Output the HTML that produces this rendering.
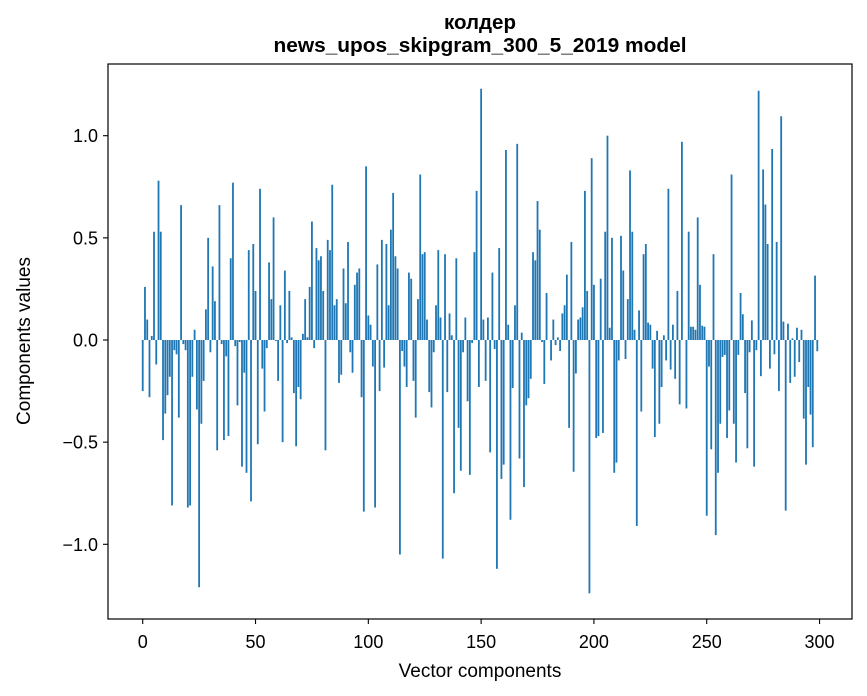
<!DOCTYPE html>
<html><head><meta charset="utf-8"><style>
html,body{margin:0;padding:0;background:#fff;}
svg{display:block;font-family:"Liberation Sans","DejaVu Sans",sans-serif;}
</style></head><body>
<svg id="chart" width="867" height="696" viewBox="0 0 867 696" xmlns="http://www.w3.org/2000/svg">
<rect width="867" height="696" fill="#fff"/>
<text x="480" y="29" text-anchor="middle" font-size="20.5" font-weight="bold">колдер</text>
<text x="480" y="52" text-anchor="middle" font-size="20.5" font-weight="bold" textLength="413" lengthAdjust="spacingAndGlyphs">news_upos_skipgram_300_5_2019 model</text>
<g id="bars"></g>
<g id="axes"></g>
<rect x="108" y="64" width="744" height="555" fill="none" stroke="#000" stroke-width="1.2"/>
<text x="480" y="677" text-anchor="middle" font-size="19">Vector components</text>
<text x="0" y="0" transform="translate(30,341) rotate(-90)" text-anchor="middle" font-size="19">Components values</text>
</svg>
<script>
const values = [-0.25,0.26,0.10,-0.28,0.02,0.53,-0.12,0.78,0.53,-0.49,
-0.36,-0.27,-0.18,-0.81,-0.05,-0.07,-0.38,0.66,-0.02,-0.05,
-0.82,-0.81,-0.18,0.05,-0.34,-1.21,-0.41,-0.20,0.15,0.50,
-0.06,0.36,0.19,-0.54,0.66,-0.02,-0.49,-0.08,-0.47,0.40,
0.77,-0.03,-0.32,-0.01,-0.62,-0.16,-0.65,0.44,-0.79,0.47,
0.24,-0.51,0.74,-0.14,-0.35,-0.04,0.38,0.20,0.60,-0.005,
-0.20,0.17,-0.50,0.34,-0.015,0.24,0.013,-0.26,-0.52,-0.23,
-0.29,0.03,0.20,0.013,0.26,0.58,-0.04,0.45,0.39,0.41,
0.24,-0.54,0.49,0.44,0.76,0.17,0.20,-0.21,-0.17,0.35,
0.18,0.48,-0.06,-0.16,0.27,0.33,0.35,-0.28,-0.84,0.85,
0.12,0.075,-0.13,-0.82,0.37,-0.25,0.49,-0.135,0.47,0.17,
0.54,0.72,0.41,0.35,-1.05,-0.054,-0.13,-0.23,0.33,0.30,
-0.20,-0.38,0.20,0.81,0.42,0.43,0.10,-0.255,-0.33,-0.06,
0.17,0.44,0.11,-1.07,0.42,-0.255,0.13,0.023,-0.75,0.40,
-0.43,-0.64,-0.06,0.11,-0.30,-0.66,-0.015,0.43,0.73,-0.23,
1.23,0.10,-0.20,0.11,-0.55,0.33,-0.044,-1.12,0.45,-0.68,
-0.61,0.93,0.075,-0.88,-0.235,0.17,0.96,-0.58,0.036,-0.72,
-0.32,-0.285,-0.19,0.43,0.39,0.68,0.54,-0.01,-0.215,0.23,
0,-0.10,0.10,-0.025,0.013,-0.054,0.13,0.17,0.32,-0.43,
0.48,-0.645,-0.164,0.10,0.11,0.16,0.73,0.24,-1.24,0.89,
0.27,-0.48,-0.47,0.30,-0.455,0.53,1.0,0.06,0.50,-0.65,
-0.60,-0.10,0.51,0.34,-0.093,0.20,0.83,0.53,0.05,-0.91,
0.145,-0.35,0.42,0.47,0.085,0.075,-0.14,-0.475,0.045,-0.41,
-0.23,0.023,-0.10,0.74,-0.145,0.075,-0.19,0.24,-0.315,0.97,
0,-0.335,0.53,0.065,0.065,0.05,0.60,0.27,0.07,0.065,
-0.86,-0.13,-0.535,0.42,-0.955,-0.65,-0.41,-0.083,-0.073,-0.48,
-0.345,0.81,-0.41,-0.60,-0.073,0.23,0.126,-0.26,-0.53,-0.06,
0.096,-0.62,-0.05,1.22,-0.177,0.835,0.663,0.47,-0.14,0.935,
-0.07,0.48,-0.25,1.095,0.09,-0.835,0.08,-0.21,0.008,-0.18,
0.06,-0.108,0.05,-0.385,-0.61,-0.23,-0.365,-0.525,0.315,-0.055];
const xTicks = [0,50,100,150,200,250,300];
const yTicks = [-1.0,-0.5,0.0,0.5,1.0];
const yTickLabels = ["\u22121.0","\u22120.5","0.0","0.5","1.0"];

const NS = "http://www.w3.org/2000/svg";
const X0 = 108, X1 = 852, XMIN = -15.39, XMAX = 314.39;
const Y0 = 340, YS = 204.3;
function xs(v){ return X0 + (v - XMIN) / (XMAX - XMIN) * (X1 - X0); }
function ys(v){ return Y0 - v * YS; }

const gb = document.getElementById('bars');
values.forEach((v, i) => {
  const r = document.createElementNS(NS, 'rect');
  const xa = xs(i - 0.4), xb = xs(i + 0.4);
  const ya = ys(Math.max(v, 0)), yb = ys(Math.min(v, 0));
  r.setAttribute('x', xa);
  r.setAttribute('width', xb - xa);
  r.setAttribute('y', ya);
  r.setAttribute('height', Math.max(yb - ya, 0.01));
  r.setAttribute('fill', '#1f77b4');
  
  
  gb.appendChild(r);
});

const ga = document.getElementById('axes');
xTicks.forEach(t => {
  const l = document.createElementNS(NS, 'line');
  l.setAttribute('x1', xs(t)); l.setAttribute('x2', xs(t));
  l.setAttribute('y1', 619); l.setAttribute('y2', 624);
  l.setAttribute('stroke', '#000'); l.setAttribute('stroke-width', '1.1');
  
  
  ga.appendChild(l);
  const tx = document.createElementNS(NS, 'text');
  tx.setAttribute('x', xs(t)); tx.setAttribute('y', 648);
  tx.setAttribute('text-anchor', 'middle'); tx.setAttribute('font-size', '18');
  tx.textContent = String(t);
  
  
  ga.appendChild(tx);
});
yTicks.forEach((t, k) => {
  const l = document.createElementNS(NS, 'line');
  l.setAttribute('x1', 103); l.setAttribute('x2', 108);
  l.setAttribute('y1', ys(t)); l.setAttribute('y2', ys(t));
  l.setAttribute('stroke', '#000'); l.setAttribute('stroke-width', '1.1');
  
  
  ga.appendChild(l);
  const tx = document.createElementNS(NS, 'text');
  tx.setAttribute('x', 98); tx.setAttribute('y', ys(t) + 6.5);
  tx.setAttribute('text-anchor', 'end'); tx.setAttribute('font-size', '18');
  tx.textContent = yTickLabels[k];
  
  
  ga.appendChild(tx);
});
</script>
</body></html>
